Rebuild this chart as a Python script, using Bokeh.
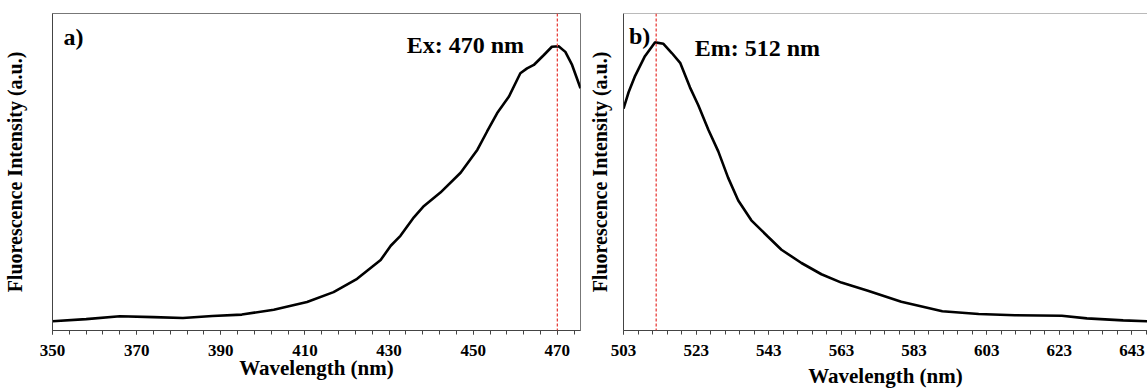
from bokeh.plotting import figure
from bokeh.layouts import row
from bokeh.models import Range1d, FixedTicker, Span, Label
from bokeh.embed import file_html
from bokeh.resources import INLINE

# ---- data (arbitrary units) ----
ex_wavelength = [350, 358, 366, 374, 381, 388, 395, 402.6, 410.5, 416.8, 422.4, 428,
                 430.4, 432.7, 435.9, 438.3, 442.2, 447, 451, 453.3, 455.7, 458.5,
                 461.2, 462.8, 464.4, 466.8, 468.7, 470.3, 471.9, 473.5, 475.5]
ex_intensity = [3.25, 4.0, 5.0, 4.7, 4.4, 5.1, 5.6, 7.3, 10.0, 13.5, 18.2, 24.8,
                29.8, 33.3, 39.8, 43.8, 48.5, 55.5, 63.6, 70.0, 76.5, 82.3,
                90.5, 92.2, 93.4, 96.9, 99.8, 100.0, 98.0, 93.4, 85.2]

em_wavelength = [503, 504.4, 506.2, 508.9, 511.7, 514, 516.3, 518.6, 521.3, 523.6,
                 526.4, 529.1, 531.8, 534.6, 538.2, 542.8, 546.5, 552, 557.5, 563,
                 570.3, 579.5, 590.8, 600.8, 610.8, 623.7, 630.6, 640.6, 647.3]
em_intensity = [76.9, 82.6, 88.3, 95.1, 99.9, 99.4, 96.2, 92.8, 84.3, 78.1,
                 69.5, 62.1, 53.0, 45.1, 38.2, 32.5, 28.0, 23.4, 19.5, 16.6,
                 13.8, 10.0, 6.7, 5.7, 5.3, 5.1, 4.2, 3.5, 3.2]

ex_ticks = [350, 370, 390, 410, 430, 450, 470]
em_ticks = [503, 523, 543, 563, 583, 603, 623, 643]
ex_minor = list(range(350, 476, 4))
em_minor = list(range(503, 648, 4))

ex_peak = 470
em_peak = 512
ex_text = "Ex: 470 nm"
em_text = "Em: 512 nm"
x_title = "Wavelength (nm)"
y_title = "Fluorescence Intensity (a.u.)"

FONT = "Liberation Serif"
AXIS_COL = "#444444"
FRAME_COL = "#777777"
RED = "#e8413c"


def make(xr, yr, ticks, minor, width, height, mbl, mbr, mbt, mbb, ylab_standoff, xlab_standoff):
    p = figure(width=width, height=height, x_range=xr, y_range=yr,
               output_backend="svg", toolbar_location=None,
               min_border_left=mbl, min_border_right=mbr,
               min_border_top=mbt, min_border_bottom=mbb)
    p.background_fill_color = "white"
    p.border_fill_color = "white"
    p.grid.visible = False
    xa = p.xaxis[0]
    xa.ticker = FixedTicker(ticks=ticks, minor_ticks=minor)
    xa.major_tick_in = 0
    xa.major_tick_out = 4
    xa.minor_tick_in = 0
    xa.minor_tick_out = 4
    xa.axis_line_color = AXIS_COL
    xa.major_tick_line_color = AXIS_COL
    xa.minor_tick_line_color = AXIS_COL
    xa.major_label_text_font = FONT
    xa.major_label_text_font_style = "bold"
    xa.major_label_text_font_size = "17px"
    xa.major_label_text_color = "black"
    xa.major_label_standoff = 10
    xa.axis_label = x_title
    xa.axis_label_text_font = FONT
    xa.axis_label_text_font_style = "bold"
    xa.axis_label_text_font_size = "21px"
    xa.axis_label_text_color = "black"
    xa.axis_label_standoff = xlab_standoff

    ya = p.yaxis[0]
    ya.ticker = FixedTicker(ticks=[])
    ya.major_tick_out = 0
    ya.major_tick_in = 0
    ya.minor_tick_out = 0
    ya.minor_tick_in = 0
    ya.axis_line_color = AXIS_COL
    ya.axis_label = y_title
    ya.axis_label_text_font = FONT
    ya.axis_label_text_font_style = "bold"
    ya.axis_label_text_font_size = "20px"
    ya.axis_label_text_color = "black"
    ya.axis_label_standoff = ylab_standoff
    return p


# Left panel (excitation)
p1 = make(Range1d(350, 475.5), Range1d(0, 111.5), ex_ticks, ex_minor,
          585, 390, 52, 5, 13, 58, 27, -3)
p1.outline_line_color = FRAME_COL
p1.outline_line_width = 1
p1.add_layout(Span(location=ex_peak, dimension="height", line_color=RED,
                   line_width=1.3, line_dash="3 2"))
p1.line(ex_wavelength, ex_intensity, line_color="black", line_width=2.6)
p1.add_layout(Label(x=352.6, y=103.1, text="a)", text_font=FONT, text_font_style="bold",
                    text_font_size="24px", text_baseline="middle", text_color="black"))
p1.add_layout(Label(x=434.2, y=100.3, text=ex_text, text_font=FONT, text_font_style="bold",
                    text_font_size="24px", text_baseline="middle", text_color="black"))

# Right panel (emission)
p2 = make(Range1d(503, 647.3), Range1d(0, 109.9), em_ticks, em_minor,
          562, 390, 37, 0, 10, 58, 13, 5)
p2.outline_line_color = None
p2.add_layout(Span(location=109.9, dimension="width", line_color=FRAME_COL, line_width=1))
p2.add_layout(Span(location=em_peak, dimension="height", line_color=RED,
                   line_width=1.3, line_dash="3 2"))
p2.line(em_wavelength, em_intensity, line_color="black", line_width=2.6)
p2.add_layout(Label(x=504.5, y=102.0, text="b)", text_font=FONT, text_font_style="bold",
                    text_font_size="24px", text_baseline="middle", text_color="black"))
p2.add_layout(Label(x=522.6, y=98.0, text=em_text, text_font=FONT, text_font_style="bold",
                    text_font_size="24px", text_baseline="middle", text_color="black"))

layout = row(p1, p2)
open("out.html", "w").write(file_html(layout, INLINE))
